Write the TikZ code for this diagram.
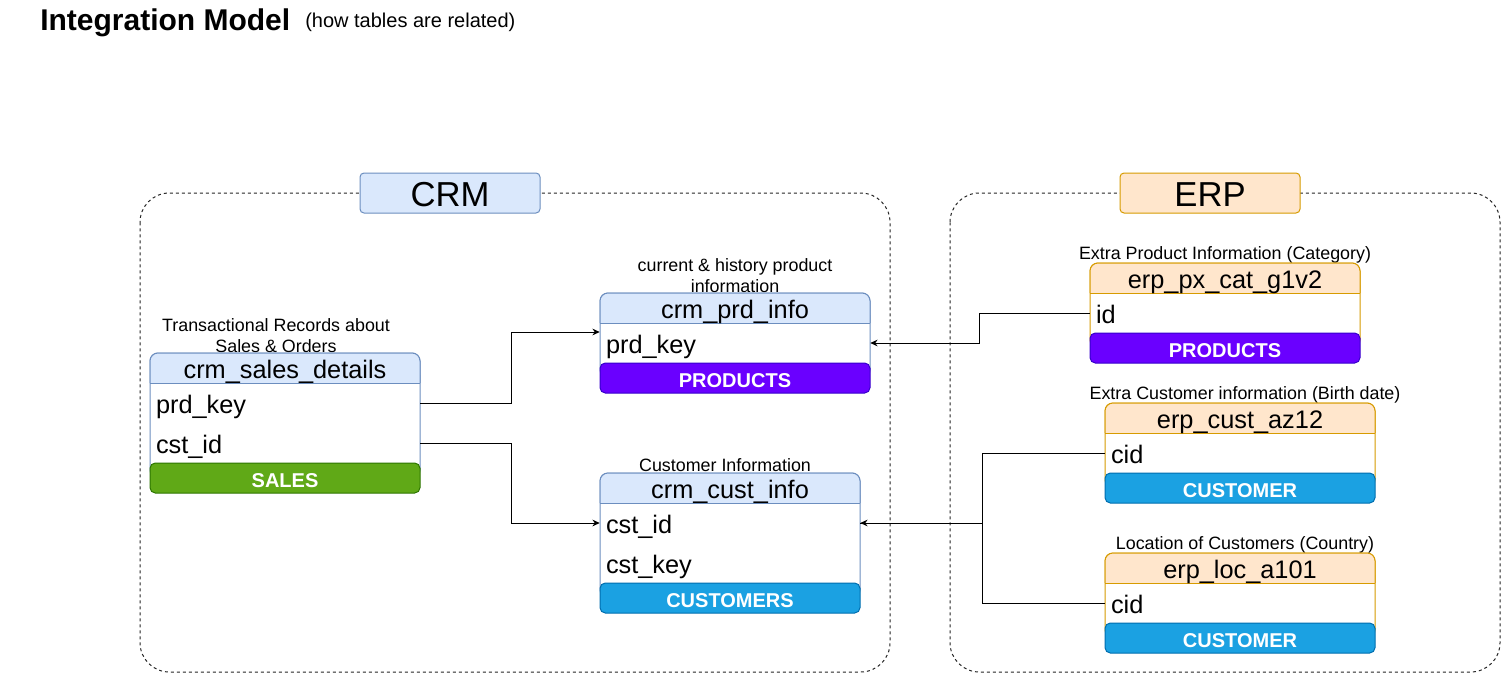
\documentclass[tikz,border=0pt]{standalone}
\usepackage{fontspec}
\setmainfont{Liberation Sans}
\usetikzlibrary{arrows.meta}
\definecolor{crmfill}{HTML}{DAE8FC}
\definecolor{crmdraw}{HTML}{6C8EBF}
\definecolor{erpfill}{HTML}{FFE6CC}
\definecolor{erpdraw}{HTML}{D79B00}
\definecolor{salesfill}{HTML}{60A917}
\definecolor{salesdraw}{HTML}{2D7600}
\definecolor{prodfill}{HTML}{6A00FF}
\definecolor{proddraw}{HTML}{3700CC}
\definecolor{custfill}{HTML}{1BA1E2}
\definecolor{custdraw}{HTML}{006EAF}
\tikzset{
  hdrtext/.style={inner sep=0pt, yshift=-3pt, font=\fontsize{19}{22}\selectfont},
  rowcell/.style={rectangle, inner xsep=4.5pt, inner ysep=0pt, minimum height=30pt, text height=16pt, text depth=0pt, align=left, font=\fontsize{19}{22}\selectfont},
  foottext/.style={inner sep=0pt, yshift=-2.25pt, text=white, font=\fontsize{15}{18}\selectfont\bfseries},
  caption/.style={inner sep=0pt, yshift=-1.5pt, align=center, font=\fontsize{13.4}{15.75}\selectfont},
  container/.style={draw=black!85, line width=0.75pt, dash pattern=on 2.25pt off 2.25pt, rounded corners=22pt},
  grouplabel/.style={rectangle, rounded corners=3pt, line width=0.75pt, minimum width=135pt, minimum height=30pt, inner sep=0pt, text height=20pt, text depth=0pt, font=\fontsize{26}{30}\selectfont},
  conn/.style={line width=0.75pt, -{Stealth[length=5.5pt,width=5pt]}},
}
\newcommand{\dbhead}[8]{%
  \pgfmathsetmacro\dbbot{#4+30+40*#5+15}%
  \draw[draw=#8, fill=white, line width=0.75pt, rounded corners=6pt] (#2,#4) rectangle (#3,\dbbot);
  \fill[#7, rounded corners=6pt] (#2,#4) rectangle (#3,#4+30);
  \fill[#7] (#2,#4+15) rectangle (#3,#4+30);
  \draw[draw=#8, line width=0.75pt, rounded corners=6pt] (#2,#4+30) -- (#2,#4) -- (#3,#4) -- (#3,#4+30);
  \draw[draw=#8, line width=0.75pt] (#2,#4+30) -- (#3,#4+30);
  \node[hdrtext] (#1) at ({(#2+#3)/2},#4+15) {#6};
}
\newcommand{\dbfoot}[7]{%
  \draw[fill=#6, draw=#7, line width=0.75pt, rounded corners=4pt] (#2,#4) rectangle (#3,#4+30);
  \node[foottext] (#1) at ({(#2+#3)/2},#4+15) {#5};
}
\begin{document}
\begin{tikzpicture}[x=0.75pt, y=-0.75pt]
\useasboundingbox (0,0) rectangle (1501,674);
\fill[white] (0,0) rectangle (1501,674);

% title
\node[anchor=west, inner sep=0pt, yshift=-2.25pt, font=\fontsize{22.5}{26}\selectfont\bfseries] (title) at (40,20) {Integration Model};
\node[anchor=west, inner sep=0pt, yshift=-1.5pt, font=\fontsize{15}{18}\selectfont] (subtitle) at (305,20) {(how tables are related)};

% containers
\draw[container] (140,193) rectangle (890,672);
\draw[container] (950,193) rectangle (1500,672);
\node[grouplabel, fill=crmfill, draw=crmdraw] (crm) at (450,193) {CRM};
\node[grouplabel, fill=erpfill, draw=erpdraw] (erp) at (1210,193) {ERP};

% crm_sales_details
\node[caption] (capsd) at (276,334) {Transactional Records about\\Sales \& Orders};
\dbhead{sd}{150}{420}{353}{2}{crm\_sales\_details}{crmfill}{crmdraw}
\node[rowcell, text width=193.5pt] (sdprd) at (285,403) {prd\_key};
\node[rowcell, text width=193.5pt] (sdcst) at (285,443) {cst\_id};
\dbfoot{sdfoot}{150}{420}{463}{SALES}{salesfill}{salesdraw}

% crm_prd_info
\node[caption] (cappi) at (735,274) {current \& history product\\information};
\dbhead{pi}{600}{870}{293}{1}{crm\_prd\_info}{crmfill}{crmdraw}
\node[rowcell, text width=193.5pt] (pkey) at (735,343) {prd\_key};
\dbfoot{pifoot}{600}{870}{363}{PRODUCTS}{prodfill}{proddraw}

% crm_cust_info
\node[caption] (capci) at (725,463) {Customer Information};
\dbhead{ci}{600}{860}{473}{2}{crm\_cust\_info}{crmfill}{crmdraw}
\node[rowcell, text width=186pt] (ccid) at (730,523) {cst\_id};
\node[rowcell, text width=186pt] (ckey) at (730,563) {cst\_key};
\dbfoot{cifoot}{600}{860}{583}{CUSTOMERS}{custfill}{custdraw}

% erp_px_cat_g1v2
\node[caption] (cappx) at (1225,253) {Extra Product Information (Category)};
\dbhead{px}{1090}{1360}{263}{1}{erp\_px\_cat\_g1v2}{erpfill}{erpdraw}
\node[rowcell, text width=193.5pt] (pxid) at (1225,313) {id};
\dbfoot{pxfoot}{1090}{1360}{333}{PRODUCTS}{prodfill}{proddraw}

% erp_cust_az12
\node[caption] (capaz) at (1245,393) {Extra Customer information (Birth date)};
\dbhead{az}{1105}{1375}{403}{1}{erp\_cust\_az12}{erpfill}{erpdraw}
\node[rowcell, text width=193.5pt] (azcid) at (1240,453) {cid};
\dbfoot{azfoot}{1105}{1375}{473}{CUSTOMER}{custfill}{custdraw}

% erp_loc_a101
\node[caption] (caploc) at (1245,543) {Location of Customers (Country)};
\dbhead{loc}{1105}{1375}{553}{1}{erp\_loc\_a101}{erpfill}{erpdraw}
\node[rowcell, text width=193.5pt] (loccid) at (1240,603) {cid};
\dbfoot{locfoot}{1105}{1375}{623}{CUSTOMER}{custfill}{custdraw}

% connectors
\draw[conn] (sdprd.east) -- ++(91,0) |- ([yshift=8.25pt]pkey.west);
\draw[conn] (sdcst.east) -- ++(91,0) |- (ccid.west);
\draw[conn] (pxid.west) -- ++(-110,0) |- (pkey.east);
\draw[conn] (azcid.west) -- ++(-122,0) |- (ccid.east);
\draw[line width=0.75pt] (loccid.west) -- ++(-122,0) |- (ccid.east);
\end{tikzpicture}
\end{document}
